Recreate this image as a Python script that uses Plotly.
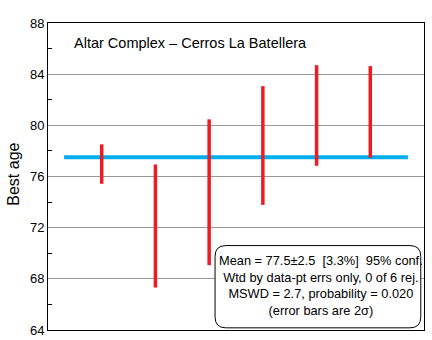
import plotly.graph_objects as go

# Data
sample_idx = [1, 2, 3, 4, 5, 6]
ages = [76.97, 72.13, 74.77, 78.42, 80.77, 81.05]
err2s = [1.54, 4.81, 5.70, 4.64, 3.93, 3.58]
mean_age = 77.5
y_ticks = [64, 68, 72, 76, 80, 84, 88]
y_minor_ticks = [66, 70, 74, 78, 82, 86]

title_text = "Altar Complex \u2013 Cerros La Batellera"
box_lines = [
    "Mean = 77.5\u00b12.5  [3.3%]  95% conf.",
    "Wtd by data-pt errs only, 0 of 6 rej.",
    "MSWD = 2.7, probability = 0.020",
    "(error bars are 2\u03c3)",
]

FONT = "Liberation Sans, Arial, sans-serif"

fig = go.Figure()

fig.add_trace(go.Scatter(
    x=sample_idx, y=ages, mode="markers",
    marker=dict(color="rgba(0,0,0,0)", size=1),
    error_y=dict(type="data", array=err2s, visible=True,
                 color="#ed1c24", thickness=3.5, width=0),
    showlegend=False, hoverinfo="skip",
))

# weighted mean line
fig.add_shape(type="line", xref="x", yref="y", x0=0.3, x1=6.7,
              y0=mean_age, y1=mean_age,
              line=dict(color="#00aeef", width=4), layer="below")

# rounded box
x0, x1, y0, y1 = 3.11, 6.94, 64.17, 70.6
rx, ry = 0.2, 0.85
path = (f"M {x0+rx},{y1} L {x1-rx},{y1} Q {x1},{y1} {x1},{y1-ry} "
        f"L {x1},{y0+ry} Q {x1},{y0} {x1-rx},{y0} "
        f"L {x0+rx},{y0} Q {x0},{y0} {x0},{y0+ry} "
        f"L {x0},{y1-ry} Q {x0},{y1} {x0+rx},{y1} Z")
fig.add_shape(type="path", xref="x", yref="y", path=path,
              line=dict(color="black", width=1), fillcolor="white")

fig.add_annotation(x=(x0 + x1) / 2 + 0.05, y=67.45, xref="x", yref="y",
                   text="<br>".join(box_lines), showarrow=False,
                   align="center", font=dict(family=FONT, size=12.8, color="black"))

fig.add_annotation(x=0.44, y=86.4, xref="x", yref="y", xanchor="left",
                   text=title_text, showarrow=False,
                   font=dict(family=FONT, size=14.5, color="black"))

# y-axis title as rotated annotation
fig.add_annotation(x=-0.094, y=0.508, xref="paper", yref="paper",
                   xanchor="center", yanchor="middle",
                   text="Best age", textangle=-90, showarrow=False,
                   font=dict(family=FONT, size=16, color="black"))

fig.update_xaxes(range=[0, 7], showticklabels=False, ticks="", showgrid=False,
                 zeroline=False, showline=True, mirror=True,
                 linecolor="black", linewidth=1, automargin=False)
fig.update_yaxes(range=[64, 88], tickvals=y_ticks, ticks="",
                 minor=dict(tickvals=y_minor_ticks, ticks="inside", ticklen=4,
                            tickcolor="black", showgrid=False),
                 showgrid=True, gridcolor="#999999", gridwidth=1,
                 zeroline=False, showline=True, mirror=True,
                 linecolor="black", linewidth=1, automargin=False,
                 tickfont=dict(family=FONT, size=13, color="black"))

fig.update_layout(width=432, height=340,
                  margin=dict(l=48, r=8, t=23, b=10, autoexpand=False),
                  plot_bgcolor="white", paper_bgcolor="white",
                  showlegend=False)

fig.write_html("out.html",
               config={"displayModeBar": False},
               post_script="document.body.style.margin='0';document.body.style.padding='0';")
